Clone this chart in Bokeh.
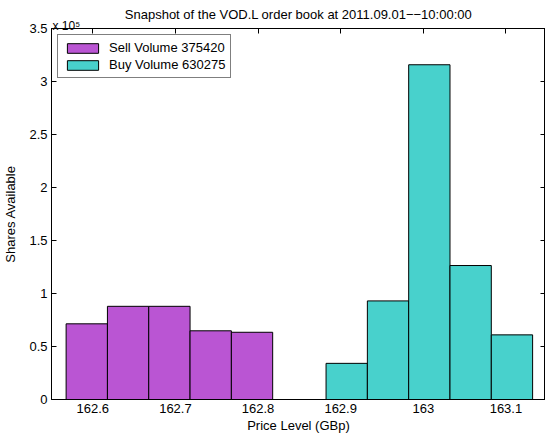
from bokeh.plotting import figure
from bokeh.models import (Range1d, FixedTicker, CustomJSTickFormatter, LinearAxis,
                          Title, Legend, LegendItem, ColumnDataSource)
from bokeh.embed import file_html
from bokeh.resources import INLINE

# ---- data ----
sell_prices = [162.60, 162.65, 162.70, 162.75, 162.80]
sell_volumes = [71400, 87900, 87900, 64800, 63420]
buy_prices = [162.90, 162.95, 163.00, 163.05, 163.10]
buy_volumes = [34100, 93000, 315800, 126400, 60975]
x_ticks = [162.6, 162.7, 162.8, 162.9, 163.0, 163.1]
y_ticks = [0, 50000, 100000, 150000, 200000, 250000, 300000, 350000]

title_text = "Snapshot of the VOD.L order book at 2011.09.01\u2212\u221210:00:00"
exponent_text = "x 10\u2075"
sell_label = "Sell Volume %d" % sum(sell_volumes)
buy_label = "Buy Volume %d" % sum(buy_volumes)

FONT = "Liberation Sans"
FS = "13px"
group_offset = 0.0073
bar_width = 0.05
x0, x1 = 162.55, 163.1479

p = figure(width=545, height=435, x_range=Range1d(x0, x1), y_range=Range1d(0, 350000),
           output_backend="svg", toolbar_location=None,
           min_border_left=40, min_border_right=0, min_border_top=28, min_border_bottom=35)
p.background_fill_color = "white"
p.border_fill_color = "white"
p.outline_line_color = "black"
p.outline_line_width = 1
p.xgrid.visible = False
p.ygrid.visible = False

p.title.text = title_text
p.title.align = "center"
p.title.vertical_align = "top"
p.title.offset = 2
p.title.standoff = 4
p.title.text_font = FONT
p.title.text_font_size = FS
p.title.text_font_style = "normal"
p.title.text_color = "black"

sell_src = ColumnDataSource(dict(x=[v - group_offset for v in sell_prices], top=sell_volumes))
buy_src = ColumnDataSource(dict(x=[v + group_offset for v in buy_prices], top=buy_volumes))

r_sell = p.vbar(x="x", top="top", width=bar_width, bottom=0, source=sell_src,
                fill_color="#BA55D3", line_color="black", line_width=1)
r_buy = p.vbar(x="x", top="top", width=bar_width, bottom=0, source=buy_src,
               fill_color="#48D1CC", line_color="black", line_width=1)

xfmt = CustomJSTickFormatter(code="return Number(tick.toFixed(1)).toString();")
yfmt = CustomJSTickFormatter(code="return Number((tick/1e5).toFixed(1)).toString();")

def style_axis(ax, labels=True):
    ax.axis_line_color = "black"
    ax.major_tick_line_color = "black"
    ax.minor_tick_line_color = None
    ax.major_tick_out = 0
    ax.major_tick_in = 5
    ax.major_label_text_font = FONT
    ax.major_label_text_font_size = FS if labels else "0px"
    ax.major_label_text_color = "black" if labels else None
    ax.axis_label_text_font = FONT
    ax.axis_label_text_font_size = FS
    ax.axis_label_text_font_style = "normal"
    ax.axis_label_text_color = "black"

xa = p.xaxis[0]
xa.ticker = FixedTicker(ticks=x_ticks)
xa.formatter = xfmt
style_axis(xa)
xa.major_tick_in = 0
xa.major_label_standoff = 4
xa.axis_label = "Price Level (GBp)"
xa.axis_label_standoff = 2

ya = p.yaxis[0]
ya.ticker = FixedTicker(ticks=y_ticks)
ya.formatter = yfmt
style_axis(ya)
ya.major_label_standoff = 4
ya.axis_label = "Shares Available"
ya.axis_label_standoff = 8

top_ax = LinearAxis(ticker=FixedTicker(ticks=x_ticks), formatter=xfmt)
style_axis(top_ax, labels=False)
top_ax.major_label_standoff = 0
p.add_layout(top_ax, "above")

p.add_layout(Title(text=exponent_text, align="left", vertical_align="top", standoff=-13, offset=1,
                   text_font=FONT, text_font_size="12px", text_font_style="normal",
                   text_color="black"), "above")

right_ax = LinearAxis(ticker=FixedTicker(ticks=y_ticks), formatter=yfmt)
style_axis(right_ax, labels=False)
right_ax.major_label_standoff = 0
p.add_layout(right_ax, "right")

legend = Legend(items=[LegendItem(label=sell_label, renderers=[r_sell]),
                       LegendItem(label=buy_label, renderers=[r_buy])],
                location="top_left")
legend.margin = 6
legend.padding = 5
legend.spacing = 2
legend.glyph_width = 39
legend.glyph_height = 12
legend.label_height = 12
legend.label_standoff = 7
legend.label_text_font = FONT
legend.label_text_font_size = FS
legend.label_text_color = "black"
legend.border_line_color = "black"
legend.border_line_width = 1
legend.background_fill_color = "white"
legend.background_fill_alpha = 1
p.add_layout(legend, "center")

open("out.html", "w").write(file_html(p, INLINE))
